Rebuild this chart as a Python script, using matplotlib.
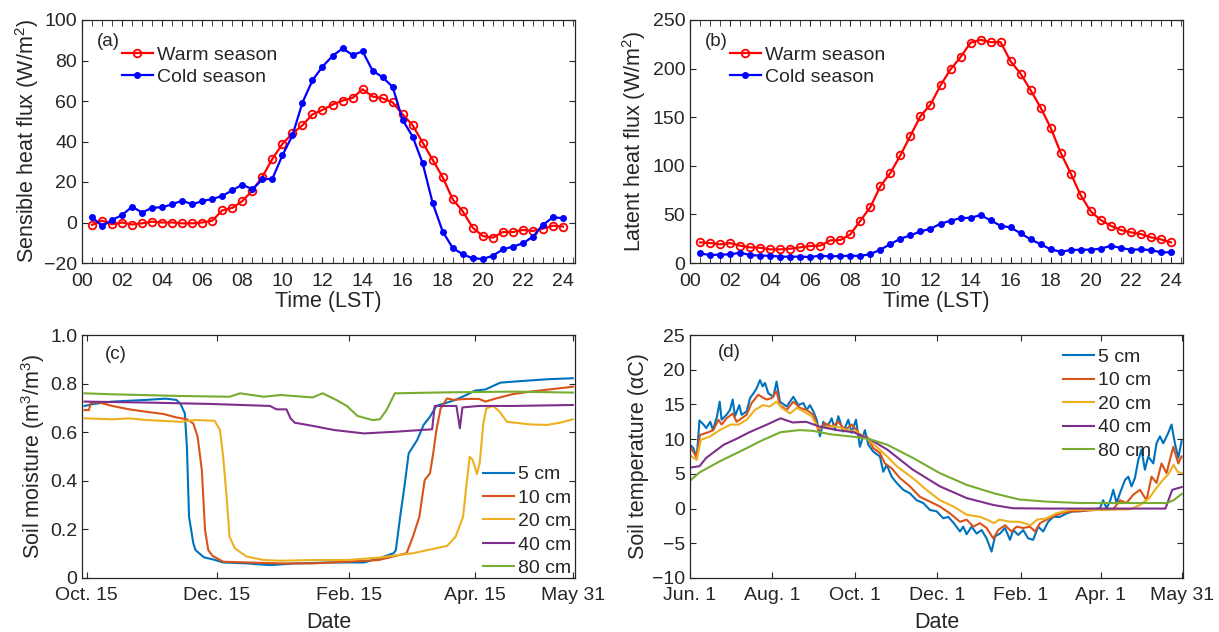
import matplotlib
matplotlib.use("Agg")
import matplotlib.pyplot as plt
import numpy as np
from matplotlib.ticker import MultipleLocator

plt.rcParams['font.family'] = ['Liberation Sans', 'DejaVu Sans']
plt.rcParams['mathtext.fontset'] = 'custom'
plt.rcParams['mathtext.rm'] = 'Liberation Sans'
plt.rcParams['text.color'] = '#262626'
plt.rcParams['axes.labelcolor'] = '#262626'
plt.rcParams['xtick.color'] = '#262626'
plt.rcParams['ytick.color'] = '#262626'

TXT = '#262626'

# ---- (a)/(b) diurnal cycles, half-hourly (LST) ----
hours = np.arange(1, 49) * 0.5

sh_warm = [-1.2, 0.9, -0.9, 0.0, -1.0, -0.4, 0.4, 0.0, 0.0, -0.4, -0.4, 0.0,
           0.9, 6.0, 7.2, 10.6, 15.7, 22.6, 31.4, 38.8, 44.0, 48.0, 53.4, 55.6,
           58.2, 60.2, 61.5, 65.8, 62.2, 61.3, 59.3, 53.4, 48.0, 39.4, 30.9, 22.3,
           11.4, 5.5, -2.6, -6.7, -7.5, -4.7, -4.7, -3.7, -4.2, -3.0, -1.6, -2.0]
sh_cold = [2.6, -1.7, 1.2, 3.7, 7.8, 4.9, 7.3, 7.5, 9.0, 10.8, 9.0, 10.6,
           11.6, 13.1, 15.9, 18.7, 16.4, 21.3, 21.6, 33.2, 43.0, 59.2, 70.2, 77.0,
           82.2, 86.0, 82.7, 84.5, 75.0, 71.7, 67.0, 50.6, 42.4, 29.2, 9.5, -4.5,
           -12.6, -15.7, -17.7, -18.0, -16.4, -13.3, -11.9, -10.3, -7.0, -1.2, 2.6, 2.1]

lh_warm = [21.2, 20.5, 19.2, 20.5, 17.8, 16.1, 15.7, 14.0, 14.0, 14.7, 16.1, 17.5,
           17.8, 23.3, 23.6, 29.4, 43.5, 57.5, 79.0, 92.7, 110.9, 131.0, 151.0, 163.0,
           182.7, 199.2, 211.8, 226.6, 229.6, 227.2, 227.2, 207.4, 194.7, 177.6, 159.8, 138.9,
           113.3, 92.0, 69.5, 53.0, 44.1, 38.3, 33.9, 31.5, 29.8, 26.4, 24.3, 21.2]
lh_cold = [9.9, 8.2, 8.6, 8.9, 10.6, 8.2, 7.5, 7.5, 6.5, 6.5, 6.5, 6.2,
           7.5, 6.8, 7.2, 7.5, 7.2, 9.2, 13.7, 19.5, 25.0, 28.4, 32.5, 35.2,
           40.4, 43.5, 46.2, 46.5, 49.3, 43.8, 38.3, 36.6, 30.5, 24.3, 19.2, 14.0,
           11.6, 13.3, 13.7, 13.7, 14.7, 17.8, 15.4, 13.7, 14.0, 13.3, 11.0, 11.0]

hour_ticks = list(range(0, 25, 2))
hour_labels = ['%02d' % h for h in hour_ticks]

# ---- (c) soil moisture, days since Oct. 15 ----
sm_day_5 = [-1, 3, 12, 28, 37, 42, 44, 46, 47, 48, 50, 51, 55, 59, 64, 75, 86, 98, 114, 130,
            137, 144, 145, 147, 149, 151, 155, 158, 161, 164, 169, 173, 178, 182, 187, 194,
            200, 216, 228]
sm_5 = [0.708, 0.716, 0.726, 0.733, 0.738, 0.733, 0.716, 0.678, 0.540, 0.252, 0.143, 0.115,
        0.085, 0.077, 0.064, 0.060, 0.053, 0.060, 0.064, 0.064, 0.081, 0.102, 0.115, 0.252,
        0.376, 0.513, 0.568, 0.630, 0.664, 0.708, 0.722, 0.733, 0.753, 0.771, 0.776, 0.804,
        0.808, 0.818, 0.822]
sm_day_10 = [-1, 1, 2, 6, 12, 20, 28, 36, 42, 47, 50, 52, 54, 55.5, 57, 59, 64, 75, 91, 106,
             122, 137, 150, 153, 156, 158.5, 161, 162.5, 164, 166, 169, 172, 178, 184, 187,
             192, 200, 208, 219, 228]
sm_10 = [0.691, 0.691, 0.722, 0.722, 0.708, 0.694, 0.684, 0.675, 0.661, 0.653, 0.636, 0.582,
         0.444, 0.198, 0.115, 0.091, 0.067, 0.064, 0.060, 0.060, 0.067, 0.074, 0.102, 0.170,
         0.252, 0.403, 0.431, 0.513, 0.609, 0.698, 0.739, 0.733, 0.737, 0.737, 0.726, 0.739,
         0.757, 0.767, 0.778, 0.787]
sm_day_20 = [-1, 12, 20, 28, 44, 51, 60, 62.5, 64, 65.6, 67, 69.5, 75, 83, 91, 106, 122, 137,
             153, 169, 173, 176.5, 178, 179.6, 181, 183, 184.3, 186, 187.4, 190.6, 193.7, 197,
             208, 216, 222, 228]
sm_20 = [0.657, 0.653, 0.657, 0.650, 0.643, 0.650, 0.647, 0.609, 0.499, 0.335, 0.170, 0.122,
         0.088, 0.074, 0.071, 0.074, 0.074, 0.084, 0.102, 0.132, 0.170, 0.252, 0.376, 0.499,
         0.486, 0.428, 0.472, 0.636, 0.698, 0.708, 0.684, 0.643, 0.632, 0.630, 0.639, 0.653]
sm_day_40 = [-1, 28, 59, 86, 89, 93.7, 95.6, 97.6, 106, 116, 130, 145, 162, 163.2, 169, 173.4,
             175, 176.2, 184, 200, 228]
sm_40 = [0.726, 0.722, 0.716, 0.708, 0.694, 0.694, 0.657, 0.639, 0.626, 0.609, 0.595, 0.602,
         0.612, 0.708, 0.708, 0.708, 0.616, 0.702, 0.708, 0.708, 0.712]
sm_day_80 = [-1, 12, 44, 67, 72, 83, 91, 106, 110.6, 117, 122, 127, 134, 137.5, 140.6, 144.5,
             169, 200, 228]
sm_80 = [0.760, 0.756, 0.749, 0.746, 0.760, 0.746, 0.753, 0.743, 0.760, 0.733, 0.708, 0.667,
         0.650, 0.653, 0.691, 0.760, 0.764, 0.767, 0.763]

sm_ticks = [0, 61, 123, 182, 228]
sm_labels = ['Oct. 15', 'Dec. 15', 'Feb. 15', 'Apr. 15', 'May 31']

# ---- (d) soil temperature, days since Jun. 1 ----
st_day_5 = [0, 2.5, 5, 7, 10, 12, 15, 17, 20, 22, 23.4, 27, 29.6, 31.6, 33.3, 36.5, 38.2, 42,
            44.4, 47, 49.3, 51.8, 53.8, 55.5, 58, 61.7, 64.1, 66.6, 71.6, 76.5, 80.2, 83.9,
            86.4, 88.8, 91.3, 93.8, 96.2, 98.7, 101.2, 104.9, 107.3, 109.8, 113.5, 117.2,
            119.7, 122.9, 125.8, 129.5, 132, 135.7, 140.6, 143.1, 145.6, 149.3, 153, 157.9,
            162.8, 167.8, 172.7, 177.6, 182.6, 187.5, 191.2, 194.9, 199.9, 202.3, 204.8,
            208.5, 212.2, 215.9, 219.6, 223.3, 225.8, 229.5, 233.2, 236.9, 239.3, 243,
            246.7, 250.4, 254.1, 257.8, 261.5, 265.2, 268.9, 273.9, 278.8, 283.7, 288.7,
            296.1, 303.5, 305.9, 308.4, 310.9, 313.4, 315.8, 318.3, 322, 324.5, 326.9, 329.4,
            331.9, 334.3, 336.8, 339.3, 343, 345.4, 347.9, 350.4, 354.1, 356.5, 359, 361.5,
            363.9]
st_5 = [9.2, 8.7, 7.3, 12.7, 12.1, 11.6, 12.5, 11.3, 13.3, 15.4, 12.8, 13.5, 14.2, 15.7, 13.3,
        14.9, 13.5, 14.0, 15.9, 16.6, 17.3, 18.5, 17.6, 18.1, 16.6, 16.1, 18.3, 15.4, 14.7,
        16.1, 14.9, 15.2, 14.2, 14.9, 14.0, 12.8, 10.4, 12.5, 11.6, 13.0, 11.3, 13.3, 11.1,
        12.8, 10.9, 12.8, 8.9, 11.3, 9.2, 8.2, 7.5, 5.3, 6.3, 4.6, 3.7, 2.7, 2.2, 1.2, 0.8,
        -0.2, -0.4, -1.4, -1.2, -2.0, -3.3, -2.6, -3.7, -2.6, -3.6, -3.1, -4.3, -6.2, -4.0,
        -3.6, -2.8, -4.5, -3.1, -3.8, -3.1, -4.3, -4.5, -2.6, -3.3, -1.9, -1.2, -1.2, -0.7,
        -0.4, -0.4, -0.2, 0.05, 1.2, 0.05, 1.0, 2.7, 0.8, 2.2, 4.1, 4.6, 3.2, 4.4, 7.0, 8.5,
        5.6, 7.5, 6.5, 9.4, 10.4, 9.4, 10.9, 12.1, 9.4, 7.3, 9.7]
st_day_10 = [0, 5, 7.4, 12.3, 17.3, 21, 23.4, 27.1, 31.6, 34.5, 38.2, 41.9, 45.6, 50.6, 53,
             56.7, 60.4, 64.1, 66.6, 71.6, 76.5, 81.4, 86.4, 91.3, 95, 99.9, 104.9, 109.8,
             114.7, 119.7, 123.4, 127.1, 130.8, 135.7, 140.6, 144.3, 149.3, 155.4, 162.8,
             170.2, 177.6, 185, 192.5, 199.9, 204.8, 209.7, 214.7, 219.6, 224.5, 228.2, 233.2,
             238.1, 241.8, 246.7, 251.7, 255.4, 259.1, 264, 268.9, 276.3, 283.7, 301, 313.4,
             318.3, 323.2, 328.2, 333.1, 338, 341.7, 345.4, 349.1, 352.8, 357.8, 361.5, 363.9]
st_10 = [8.9, 7.4, 10.6, 10.9, 11.3, 12.8, 12.1, 13.0, 13.7, 12.5, 13.0, 13.5, 15.2, 16.4,
         16.1, 15.7, 15.9, 16.9, 14.9, 14.2, 15.4, 14.5, 14.2, 13.5, 11.3, 12.3, 11.8, 12.5,
         11.3, 12.1, 11.3, 10.1, 10.4, 8.7, 8.0, 6.5, 5.8, 4.4, 3.2, 1.7, 1.0, 0.3, -0.7,
         -1.9, -1.6, -2.6, -2.1, -2.8, -4.3, -3.1, -2.4, -3.3, -2.6, -2.8, -2.6, -3.3, -2.1,
         -1.6, -1.1, -0.6, -0.4, -0.2, -0.1, 1.2, 0.8, 2.0, 2.7, 1.2, 4.6, 3.7, 6.5, 5.1, 8.9,
         6.5, 7.5]
st_day_20 = [0, 5, 8, 15, 22, 30, 36, 42, 48, 54, 59, 64, 68, 74, 79, 84, 90, 95, 101, 109,
             116, 123, 131, 138, 146, 153, 160, 168, 175, 185, 195, 205, 215, 220, 225, 229,
             237, 244, 252, 257, 264, 271, 281, 301, 326, 333, 340, 345, 350, 354, 358, 361,
             364]
st_20 = [7.7, 7.0, 9.9, 10.4, 11.3, 12.1, 12.1, 12.8, 14.2, 14.9, 14.7, 15.4, 14.5, 13.7,
         14.5, 14.0, 13.3, 11.6, 11.8, 11.8, 11.3, 11.1, 10.1, 8.9, 7.5, 6.1, 5.1, 3.9, 2.7,
         1.2, 0.3, -0.9, -1.2, -1.6, -2.1, -1.6, -1.9, -1.9, -2.4, -1.6, -1.4, -0.7, -0.2,
         -0.2, -0.1, 0.5, 1.5, 2.9, 4.1, 4.9, 6.3, 5.3, 5.1]
st_day_40 = [0, 7, 12, 25, 35, 44, 57, 67, 76, 86, 96, 109, 121, 133, 146, 165, 185, 205,
             225, 239, 264, 313, 352, 357, 364]
st_40 = [5.9, 6.1, 7.3, 9.2, 10.1, 11.0, 12.1, 13.0, 12.4, 12.5, 11.8, 11.3, 11.0, 10.0, 8.5,
         5.6, 3.2, 1.5, 0.5, 0.05, 0.0, 0.0, 0.0, 2.7, 3.1]
st_day_80 = [0, 7, 22, 42, 52, 67, 81, 91, 104, 123, 133, 146, 165, 185, 205, 225, 244, 264,
             289, 313, 353, 358, 364]
st_80 = [4.0, 5.2, 6.8, 8.7, 9.7, 11.0, 11.3, 11.2, 10.7, 10.3, 10.0, 9.2, 7.3, 5.1, 3.4, 2.2,
         1.3, 1.0, 0.8, 0.8, 0.8, 1.2, 2.1]

st_ticks = [0, 61, 122, 183, 245, 304, 364]
st_labels = ['Jun. 1', 'Aug. 1', 'Oct. 1', 'Dec. 1', 'Feb. 1', 'Apr. 1', 'May 31']

depth_labels = ['5 cm', '10 cm', '20 cm', '40 cm', '80 cm']
depth_colors = ['#0072BD', '#D95319', '#EDB120', '#7E2F8E', '#77AC30']

W, H = 1219, 632
fig = plt.figure(figsize=(W / 100, H / 100), dpi=100)

TICK_FS = 14
LABEL_FS = 15.5
LEG_FS = 14


def px_axes(left, top, right, bottom):
    return fig.add_axes([left / W, 1 - bottom / H, (right - left) / W, (bottom - top) / H])


def style(ax, xpad=4):
    for sp in ax.spines.values():
        sp.set_color(TXT)
        sp.set_linewidth(0.9)
    ax.tick_params(which='both', direction='in', top=True, right=True, labelsize=TICK_FS)
    ax.tick_params(which='major', length=4.5)
    ax.tick_params(which='minor', length=4)
    ax.tick_params(axis='x', pad=xpad)


ax_a = px_axes(82, 20, 575, 263)
ax_b = px_axes(690, 20, 1183, 263)
ax_c = px_axes(82, 335, 575, 578)
ax_d = px_axes(690, 335, 1183, 578)

# (a)
ax_a.plot(hours, sh_warm, '-o', color='red', lw=1.6, ms=5.5, mfc='none', mew=1.3, label='Warm season')
ax_a.plot(hours, sh_cold, '-o', color='blue', lw=1.6, ms=4, label='Cold season')
ax_a.set_ylim(-20, 100)
ax_a.set_yticks(range(-20, 101, 20))
ax_a.set_ylabel('Sensible heat flux (W/m$^2$)', fontsize=LABEL_FS, labelpad=2)

# (b)
ax_b.plot(hours, lh_warm, '-o', color='red', lw=1.6, ms=5.5, mfc='none', mew=1.3, label='Warm season')
ax_b.plot(hours, lh_cold, '-o', color='blue', lw=1.6, ms=4, label='Cold season')
ax_b.set_ylim(0, 250)
ax_b.set_yticks(range(0, 251, 50))
ax_b.set_ylabel('Latent heat flux (W/m$^2$)', fontsize=LABEL_FS, labelpad=3)

for ax, tag in [(ax_a, '(a)'), (ax_b, '(b)')]:
    ax.set_xlim(0, 24.6)
    ax.set_xticks(hour_ticks)
    ax.set_xticklabels(hour_labels)
    ax.xaxis.set_minor_locator(MultipleLocator(0.5))
    ax.set_xlabel('Time (LST)', fontsize=LABEL_FS, labelpad=1)
    style(ax, xpad=7)
    ax.text(0.03, 0.91, tag, transform=ax.transAxes, fontsize=13.5, va='center', ha='left')
    ax.legend(loc='upper left', bbox_to_anchor=(0.081, 0.893), frameon=False, fontsize=LEG_FS,
              handlelength=1.6, handletextpad=0.2, labelspacing=0.25, borderpad=0,
              borderaxespad=0)

# (c)
sm_days = [sm_day_5, sm_day_10, sm_day_20, sm_day_40, sm_day_80]
sm_vals = [sm_5, sm_10, sm_20, sm_40, sm_80]
for d, v, c, lab in zip(sm_days, sm_vals, depth_colors, depth_labels):
    ax_c.plot(d, v, color=c, lw=1.5, label=lab)
ax_c.set_xlim(-2.2, 229)
ax_c.set_ylim(0, 1)
ax_c.set_yticks([0, 0.2, 0.4, 0.6, 0.8, 1.0])
ax_c.set_yticklabels(['0', '0.2', '0.4', '0.6', '0.8', '1.0'])
ax_c.set_xticks(sm_ticks)
ax_c.set_xticklabels(sm_labels)
ax_c.set_ylabel('Soil moisture (m$^3$/m$^3$)', fontsize=LABEL_FS, labelpad=2)
ax_c.set_xlabel('Date', fontsize=LABEL_FS, labelpad=6)
style(ax_c, xpad=6.5)
ax_c.text(0.047, 0.918, '(c)', transform=ax_c.transAxes, fontsize=13.5, va='center', ha='left')
ax_c.legend(loc='upper left', bbox_to_anchor=(0.813, 0.462), frameon=False, fontsize=LEG_FS,
            handlelength=1.6, handletextpad=0.2, labelspacing=0.3, borderpad=0, borderaxespad=0)

# (d)
st_days = [st_day_5, st_day_10, st_day_20, st_day_40, st_day_80]
st_vals = [st_5, st_10, st_20, st_40, st_80]
for d, v, c, lab in zip(st_days, st_vals, depth_colors, depth_labels):
    ax_d.plot(d, v, color=c, lw=1.5, label=lab)
ax_d.set_xlim(0, 365)
ax_d.set_ylim(-10, 25)
ax_d.set_yticks(range(-10, 26, 5))
ax_d.set_xticks(st_ticks)
ax_d.set_xticklabels(st_labels)
ax_d.set_ylabel('Soil temperature (\u03b1C)', fontsize=LABEL_FS, labelpad=2)
ax_d.set_xlabel('Date', fontsize=LABEL_FS, labelpad=6)
style(ax_d, xpad=6.5)
ax_d.text(0.057, 0.926, '(d)', transform=ax_d.transAxes, fontsize=13.5, va='center', ha='left')
ax_d.legend(loc='upper left', bbox_to_anchor=(0.757, 0.945), frameon=False, fontsize=LEG_FS,
            handlelength=1.6, handletextpad=0.2, labelspacing=0.3, borderpad=0, borderaxespad=0)

fig.savefig('out.png', dpi=100)
